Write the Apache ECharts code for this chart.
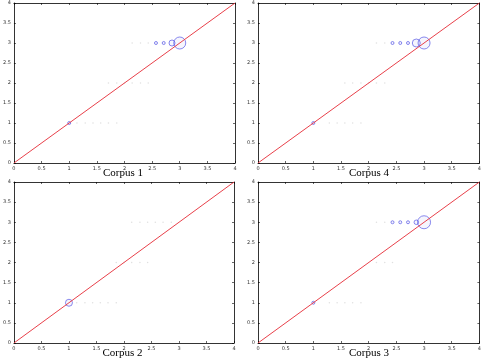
<!DOCTYPE html>
<html>
<head>
<meta charset="utf-8">
<script src="https://cdn.jsdelivr.net/npm/echarts@6/dist/echarts.min.js"></script>
<style>
  html, body { margin: 0; padding: 0; background: #fff; }
  #chart { width: 484px; height: 361px; }
</style>
</head>
<body>
<div id="chart"></div>
<script>
// ---- data: [x, y, diameter] for blue circles, [x, y] for faint dots
const tickValues = [0, 0.5, 1, 1.5, 2, 2.5, 3, 3.5, 4];
const diagonal = [[0, 0], [4, 4]];

const corpus1Circles = [[1, 1, 3], [2.57, 3, 3], [2.71, 3, 3], [2.86, 3, 6], [3, 3, 12]];
const corpus1Faint = [[2.14, 3], [2.29, 3], [2.43, 3],
    [1.71, 2], [1.86, 2], [2, 2], [2.14, 2], [2.29, 2], [2.43, 2],
    [1.14, 1], [1.29, 1], [1.43, 1], [1.57, 1], [1.71, 1], [1.86, 1]];

const corpus4Circles = [[1, 1, 3], [2.43, 3, 3], [2.57, 3, 3], [2.71, 3, 3], [2.86, 3, 8], [3, 3, 12]];
const corpus4Faint = [[2.14, 3], [2.29, 3],
    [1.57, 2], [1.71, 2], [1.86, 2], [2, 2], [2.14, 2], [2.29, 2],
    [1.29, 1], [1.43, 1], [1.57, 1], [1.71, 1], [1.86, 1]];

const corpus2Circles = [[1, 1, 7]];
const corpus2Faint = [[2.14, 3], [2.29, 3], [2.43, 3], [2.57, 3], [2.71, 3], [2.86, 3],
    [1.86, 2], [2, 2], [2.14, 2], [2.29, 2], [2.43, 2],
    [1.14, 1], [1.29, 1], [1.43, 1], [1.57, 1], [1.71, 1], [1.86, 1]];

const corpus3Circles = [[1, 1, 3], [2.43, 3, 3], [2.57, 3, 3], [2.71, 3, 3], [2.86, 3, 4.5], [3, 3, 13]];
const corpus3Faint = [[2.14, 3], [2.29, 3],
    [2.14, 2], [2.29, 2], [2.43, 2],
    [1.29, 1], [1.43, 1], [1.57, 1], [1.71, 1], [1.86, 1]];

const panels = [
    { name: 'Corpus 1', circles: corpus1Circles, faint: corpus1Faint, left: 11, top: 3, width: 224, height: 160 },
    { name: 'Corpus 4', circles: corpus4Circles, faint: corpus4Faint, left: 258, top: 3, width: 222, height: 160 },
    { name: 'Corpus 2', circles: corpus2Circles, faint: corpus2Faint, left: 11, top: 182, width: 223, height: 161 },
    { name: 'Corpus 3', circles: corpus3Circles, faint: corpus3Faint, left: 258, top: 182, width: 222, height: 161 }
];

var chart = echarts.init(document.getElementById('chart'));

let grid = [], xAxis = [], yAxis = [], series = [], title = [];

function mainAxis(i, labels, position) {
    return {
        type: 'value', gridIndex: i, min: 0, max: 4, interval: 0.5,
        position: position,
        axisLine: { show: true, onZero: false, lineStyle: { color: '#000', width: 0.8 } },
        axisTick: { show: true, inside: true, length: 2, lineStyle: { color: '#000', width: 0.6 } },
        axisLabel: { show: labels, fontSize: 5, color: '#333', margin: 3, fontFamily: 'DejaVu Sans' },
        splitLine: { show: false }
    };
}

panels.forEach(function (p, i) {
    grid.push({ left: p.left, top: p.top, width: p.width, height: p.height, containLabel: false });
    // bottom / left axes with labels, top / right axes ticks only
    xAxis.push(mainAxis(i, true, 'bottom'), mainAxis(i, false, 'top'));
    yAxis.push(mainAxis(i, true, 'left'), mainAxis(i, false, 'right'));

    series.push({
        type: 'scatter', xAxisIndex: 2 * i, yAxisIndex: 2 * i,
        data: p.faint, symbolSize: 1.5, silent: true,
        itemStyle: { color: '#d8d8d8' }
    });
    series.push({
        type: 'line', xAxisIndex: 2 * i, yAxisIndex: 2 * i,
        data: diagonal, showSymbol: false, silent: true,
        lineStyle: { color: '#e8404a', width: 1 }
    });
    series.push({
        type: 'scatter', xAxisIndex: 2 * i, yAxisIndex: 2 * i,
        data: p.circles,
        symbolSize: function (v) { return v[2]; },
        itemStyle: { color: 'rgba(90,90,230,0.08)', borderColor: '#5a5ae6', borderWidth: 0.9 }
    });

    title.push({
        text: p.name,
        left: p.left + p.width / 2, top: p.top + p.height + 5,
        textAlign: 'center', padding: 0,
        textStyle: { fontFamily: 'Liberation Serif', fontSize: 11, fontWeight: 'normal', color: '#000' }
    });
});

option1 = {
    animation: false,
    title: title,
    grid: grid,
    xAxis: xAxis,
    yAxis: yAxis,
    series: series
};
chart.setOption(option1);
</script>
</body>
</html>
